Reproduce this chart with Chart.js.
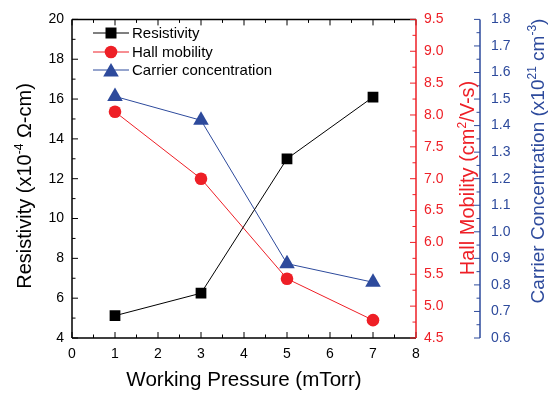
<!DOCTYPE html>
<html>
<head>
<meta charset="utf-8">
<script src="https://cdn.jsdelivr.net/npm/chart.js@4"></script>
<style>
  html, body { margin: 0; padding: 0; background: #fff; }
  #wrap { width: 555px; height: 397px; }
</style>
</head>
<body>
<div id="wrap"><canvas id="c" width="555" height="397"></canvas></div>
<script>
// --- data ---
const pressure = [1, 3, 5, 7];                 // mTorr
const resistivity = [5.12, 6.25, 13.0, 16.1];  // x10^-4 ohm-cm
const hallMobility = [8.05, 7.0, 5.43, 4.78];  // cm2/V-s
const carrierConc = [1.51, 1.42, 0.88, 0.81];  // x10^21 cm-3

// axis ranges: [min, max, major step, minor step]
const xRange = [0, 8, 1, 0.5];
const resRange = [4, 20, 2, 1];
const hallRange = [4.5, 9.5, 0.5, 0.25];
const carrRange = [0.6, 1.8, 0.1, 0.05];

const seriesNames = ["Resistivity", "Hall mobility", "Carrier concentration"];

const BLACK = "#000000";
const RED = "#ee1f26";
const BLUE = "#2d4a9c";
const FONT = '"Liberation Sans", Arial, sans-serif';

const pts = (ys) => pressure.map((x, i) => ({ x, y: ys[i] }));

// small marker painter for the legend
function marker(ctx, style, x, y, color) {
	ctx.save();
	ctx.fillStyle = color;
	ctx.beginPath();
	if (style === "rect") ctx.rect(x - 5.5, y - 5.5, 11, 11);
	else if (style === "circle") ctx.arc(x, y, 6.3, 0, Math.PI * 2);
	else {
		const r = 9;
		ctx.moveTo(x, y - r);
		ctx.lineTo(x + r * 0.866, y + r / 2);
		ctx.lineTo(x - r * 0.866, y + r / 2);
		ctx.closePath();
	}
	ctx.fill();
	ctx.restore();
}

// text with superscripts, centred on (cx, cy)
function richText(ctx, parts, cx, cy, angle, size, color) {
	const main = `${size}px ${FONT}`, sup = `${Math.round(size * 0.62)}px ${FONT}`;
	let w = 0;
	parts.forEach(([t, s]) => { ctx.font = s ? sup : main; w += ctx.measureText(t).width; });
	ctx.save();
	ctx.translate(cx, cy);
	ctx.rotate(angle);
	ctx.fillStyle = color;
	ctx.textBaseline = "alphabetic";
	ctx.textAlign = "left";
	let x = -w / 2;
	const base = size * 0.36;
	parts.forEach(([t, s]) => {
		ctx.font = s ? sup : main;
		ctx.fillText(t, x, s ? base - size * 0.42 : base);
		x += ctx.measureText(t).width;
	});
	ctx.restore();
}

function ticksAlong(ctx, scale, range, drawOne) {
	const [min, max, step, minor] = range;
	const n = Math.round((max - min) / minor);
	for (let i = 0; i <= n; i++) {
		const v = min + i * minor;
		const major = Math.abs(v / step - Math.round(v / step)) < 1e-6;
		drawOne(scale.getPixelForValue(v), major ? 6 : 3.5);
	}
}

const framePlugin = {
	id: "frame",
	afterDraw(chart) {
		const { ctx, chartArea: a, scales } = chart;
		const { x, y, y1, y2 } = scales;
		ctx.save();
		ctx.lineWidth = 1.5;

		// black frame: left, bottom, top
		ctx.strokeStyle = BLACK;
		ctx.beginPath();
		ctx.moveTo(a.left, a.bottom); ctx.lineTo(a.right, a.bottom);
		ctx.moveTo(a.left, a.top); ctx.lineTo(a.right, a.top);
		ctx.moveTo(a.left, a.top); ctx.lineTo(a.left, a.bottom);
		ctx.stroke();
		ctx.lineWidth = 1;
		ctx.beginPath();
		ticksAlong(ctx, x, xRange, (px, len) => {
			ctx.moveTo(px, a.bottom); ctx.lineTo(px, a.bottom - len);
			ctx.moveTo(px, a.top); ctx.lineTo(px, a.top + len);
		});
		ticksAlong(ctx, y, resRange, (py, len) => {
			ctx.moveTo(a.left, py); ctx.lineTo(a.left + len, py);
		});
		ctx.stroke();

		// red axis
		ctx.strokeStyle = RED;
		ctx.lineWidth = 1.5;
		ctx.beginPath();
		ctx.moveTo(a.right, a.top); ctx.lineTo(a.right, a.bottom);
		ctx.stroke();
		ctx.lineWidth = 1;
		ctx.beginPath();
		ticksAlong(ctx, y1, hallRange, (py, len) => {
			ctx.moveTo(a.right, py); ctx.lineTo(a.right - len, py);
		});
		ctx.stroke();

		// blue axis
		const bx = y2.left;
		ctx.strokeStyle = BLUE;
		ctx.lineWidth = 1.5;
		ctx.beginPath();
		ctx.moveTo(bx, a.top); ctx.lineTo(bx, a.bottom);
		ctx.stroke();
		ctx.lineWidth = 1;
		ctx.beginPath();
		ticksAlong(ctx, y2, carrRange, (py, len) => {
			ctx.moveTo(bx, py); ctx.lineTo(bx - len, py);
		});
		ctx.stroke();

		// axis titles
		richText(ctx, [["Working Pressure (mTorr)", false]], (a.left + a.right) / 2, 379, 0, 20.6, BLACK);
		richText(ctx, [["Resistivity (x10", false], ["-4", true], [" \u03A9-cm)", false]], 24, 186, -Math.PI / 2, 20, BLACK);
		richText(ctx, [["Hall Mobility (cm", false], ["2", true], ["/V-s)", false]], 467, 178, -Math.PI / 2, 20, RED);
		richText(ctx, [["Carrier Concentration (x10", false], ["21", true], [" cm", false], ["-3", true], [")", false]], 537, 161, -Math.PI / 2, 19, BLUE);

		// legend
		const styles = ["rect", "circle", "triangle"];
		const colors = [BLACK, RED, BLUE];
		const rows = [33, 52, 70];
		ctx.font = `15px ${FONT}`;
		ctx.textBaseline = "middle";
		ctx.textAlign = "left";
		rows.forEach((ry, i) => {
			ctx.strokeStyle = colors[i];
			ctx.beginPath();
			ctx.moveTo(93, ry); ctx.lineTo(129, ry);
			ctx.stroke();
			marker(ctx, styles[i], 111, styles[i] === "triangle" ? ry + 2 : ry, colors[i]);
			ctx.fillStyle = BLACK;
			ctx.fillText(seriesNames[i], 132, ry + 1);
		});
		ctx.restore();
	}
};

const tickFont = { family: FONT, size: 14 };

new Chart(document.getElementById("c"), {
	type: "line",
	data: {
		datasets: [
			{ label: seriesNames[0], data: pts(resistivity), yAxisID: "y", borderColor: BLACK, backgroundColor: BLACK, borderWidth: 1, pointStyle: "rect", pointRadius: 7.6, pointBorderWidth: 0, tension: 0 },
			{ label: seriesNames[1], data: pts(hallMobility), yAxisID: "y1", borderColor: RED, backgroundColor: RED, borderWidth: 1, pointStyle: "circle", pointRadius: 6.3, pointBorderWidth: 0, tension: 0 },
			{ label: seriesNames[2], data: pts(carrierConc), yAxisID: "y2", borderColor: BLUE, backgroundColor: BLUE, borderWidth: 1, pointStyle: "triangle", pointRadius: 9, pointBorderWidth: 0, tension: 0 }
		]
	},
	options: {
		responsive: false,
		animation: false,
		devicePixelRatio: 1,
		layout: { padding: { top: 14, left: 0, right: 0, bottom: 0 } },
		plugins: { legend: { display: false }, tooltip: { enabled: false } },
		scales: {
			x: {
				type: "linear", min: xRange[0], max: xRange[1],
				grid: { display: false, drawTicks: false }, border: { display: false },
				ticks: { stepSize: xRange[2], color: BLACK, font: tickFont, padding: 8, maxRotation: 0, autoSkip: false },
				afterFit: (s) => { s.height = 59; }
			},
			y: {
				type: "linear", position: "left", min: resRange[0], max: resRange[1],
				grid: { display: false, drawTicks: false }, border: { display: false },
				ticks: { stepSize: resRange[2], color: BLACK, font: tickFont, padding: 8, autoSkip: false },
				afterFit: (s) => { s.width = 72; }
			},
			y1: {
				type: "linear", position: "right", weight: 0, min: hallRange[0], max: hallRange[1],
				grid: { display: false, drawTicks: false }, border: { display: false },
				ticks: { stepSize: hallRange[2], color: RED, font: tickFont, padding: 8, autoSkip: false, callback: (v) => v.toFixed(1) },
				afterFit: (s) => { s.width = 64; }
			},
			y2: {
				type: "linear", position: "right", weight: 1, min: carrRange[0], max: carrRange[1],
				grid: { display: false, drawTicks: false }, border: { display: false },
				ticks: { stepSize: carrRange[2], color: BLUE, font: tickFont, padding: 11, autoSkip: false, callback: (v) => v.toFixed(1) },
				afterFit: (s) => { s.width = 75; }
			}
		}
	},
	plugins: [framePlugin]
});
</script>
</body>
</html>
